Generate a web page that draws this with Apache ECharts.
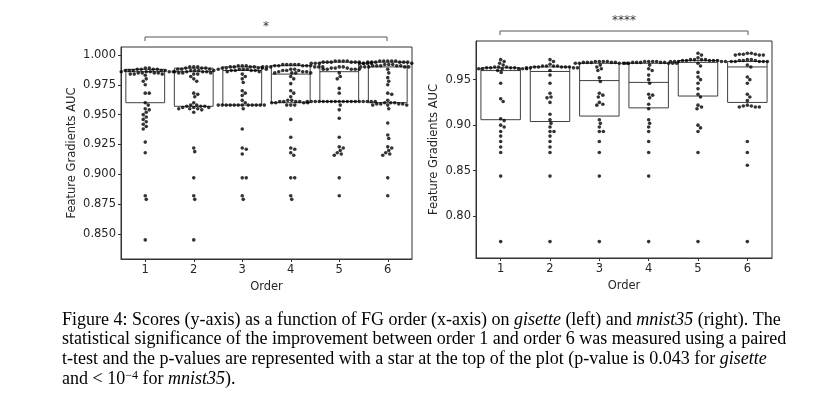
<!DOCTYPE html>
<html>
<head>
<meta charset="utf-8">
<script src="https://cdn.jsdelivr.net/npm/echarts@6/dist/echarts.min.js"></script>
<style>html,body{margin:0;background:#fff}#c{width:838px;height:409px}</style>
</head>
<body>
<div id="c"></div>
<script>
// order 1..6
var orders = [1, 2, 3, 4, 5, 6];

// gisette: boxes [q1, median, q3]
var gisetteBox = [
  [0.960, 0.986, 0.988], [0.957, 0.986, 0.989], [0.958, 0.987, 0.990],
  [0.960, 0.984, 0.991], [0.961, 0.986, 0.994], [0.960, 0.990, 0.994]
];
var gisettePts = [
  [0.989,0.989,0.988,0.988,0.988,0.988,0.987,0.987,0.987,0.987,0.987,0.986,0.986,0.986,0.986,0.986,0.985,0.985,0.985,0.985,0.984,0.984,0.984,0.983,
   0.980,0.978,0.975,0.968,0.968,0.960,0.958,0.955,0.954,0.952,0.950,0.948,0.946,0.944,0.942,0.940,0.938,0.927,0.918,0.882,0.879,0.845],
  [0.990,0.990,0.990,0.989,0.989,0.989,0.988,0.988,0.988,0.987,0.987,0.987,0.987,0.986,0.986,0.986,0.986,0.985,0.985,0.985,0.984,0.984,
   0.982,0.980,0.978,0.968,0.967,0.965,0.960,0.958,0.958,0.957,0.957,0.957,0.956,0.956,0.956,0.955,0.955,0.955,0.954,0.952,
   0.922,0.919,0.897,0.882,0.879,0.845],
  [0.991,0.991,0.991,0.990,0.990,0.990,0.990,0.989,0.989,0.989,0.989,0.988,0.988,0.988,0.988,0.988,0.987,0.987,0.987,0.987,0.986,0.986,
   0.984,0.982,0.980,0.977,0.970,0.968,0.966,0.962,0.960,0.958,0.958,0.958,0.958,0.958,0.958,0.958,0.958,0.958,0.958,0.958,0.958,0.955,
   0.938,0.922,0.921,0.917,0.897,0.897,0.882,0.879],
  [0.992,0.992,0.992,0.992,0.992,0.991,0.991,0.991,0.991,0.991,0.990,0.990,0.990,0.990,0.990,0.990,
   0.988,0.988,0.987,0.987,0.987,0.986,0.986,0.986,0.985,0.985,0.985,0.985,0.982,0.980,0.976,0.970,0.968,0.965,
   0.962,0.962,0.961,0.961,0.961,0.961,0.960,0.960,0.960,0.960,0.958,0.958,0.958,
   0.946,0.931,0.922,0.921,0.918,0.916,0.897,0.897,0.882,0.879],
  [0.995,0.995,0.995,0.995,0.994,0.994,0.994,0.994,0.994,0.994,0.993,0.993,0.993,0.993,0.993,0.993,
   0.990,0.990,0.989,0.989,0.989,0.988,0.988,0.988,0.988,0.988,0.985,0.982,0.980,0.972,0.968,
   0.961,0.961,0.961,0.961,0.961,0.961,0.961,0.961,0.961,0.961,0.961,0.961,0.961,0.961,0.961,0.961,0.961,0.961,
   0.958,0.954,0.947,0.931,0.923,0.922,0.920,0.918,0.917,0.916,0.897,0.882],
  [0.995,0.995,0.995,0.995,0.995,0.994,0.994,0.994,0.994,0.994,0.994,0.993,0.993,0.993,0.993,0.993,
   0.992,0.992,0.992,0.991,0.991,0.991,0.991,0.991,0.990,0.990,0.990,0.990,0.990,0.990,
   0.988,0.985,0.981,0.978,0.975,0.968,0.967,0.962,0.960,0.960,0.960,0.959,0.959,0.959,0.959,0.958,0.958,0.958,0.955,
   0.943,0.933,0.930,0.923,0.922,0.920,0.918,0.917,0.916,0.897,0.882]
];

// mnist35
var mnistBox = [
  [0.906, 0.960, 0.963], [0.904, 0.959, 0.964], [0.910, 0.949, 0.968],
  [0.919, 0.947, 0.968], [0.932, 0.969, 0.971], [0.925, 0.964, 0.970]
];
var mnistPts = [
  [0.972,0.970,0.968,0.966,0.964,0.964,0.964,0.963,0.963,0.963,0.963,0.962,0.962,0.962,0.962,0.962,0.962,0.962,0.960,0.958,
   0.946,0.929,0.926,0.907,0.905,0.900,0.898,0.893,0.888,0.882,0.876,0.870,0.844,0.772],
  [0.972,0.970,0.967,0.965,0.965,0.965,0.965,0.964,0.964,0.964,0.964,0.964,0.963,0.963,0.963,0.963,0.960,0.955,
   0.946,0.935,0.931,0.930,0.925,0.912,0.906,0.902,0.898,0.893,0.893,0.888,0.882,0.876,0.870,0.844,0.772],
  [0.970,0.970,0.970,0.970,0.969,0.969,0.969,0.969,0.969,0.968,0.968,0.968,0.968,0.968,0.966,0.964,0.962,0.960,0.952,0.948,
   0.935,0.933,0.931,0.925,0.923,0.922,0.906,0.902,0.898,0.893,0.893,0.882,0.870,0.844,0.772],
  [0.970,0.970,0.970,0.970,0.969,0.969,0.969,0.969,0.969,0.968,0.968,0.968,0.968,0.968,0.966,0.962,0.960,0.955,0.950,0.946,
   0.934,0.933,0.930,0.923,0.918,0.906,0.902,0.898,0.893,0.882,0.870,0.844,0.772],
  [0.979,0.977,0.974,0.972,0.972,0.972,0.972,0.971,0.971,0.971,0.971,0.971,0.970,0.970,0.970,0.970,0.970,0.968,0.965,
   0.958,0.953,0.950,0.946,0.940,0.934,0.931,0.922,0.920,0.918,0.900,0.897,0.893,0.870,0.772],
  [0.979,0.979,0.978,0.978,0.978,0.977,0.977,0.977,0.972,0.972,0.971,0.971,0.971,0.970,0.970,0.970,0.970,0.970,0.966,0.964,
   0.953,0.950,0.946,0.934,0.931,0.927,0.922,0.921,0.921,0.920,0.920,0.920,0.882,0.870,0.856,0.772]
];

var leftGrid = {left: 121, top: 47, width: 291, height: 212, ymin: 0.829, ymax: 1.0067};
var rightGrid = {left: 476, top: 41, width: 296, height: 217, ymin: 0.754, ymax: 0.9925};

// beeswarm offsets, worked out in pixels and turned back to x data units
function swarm(vals, g, cat) {
  var pxX = g.width / 6, pxY = g.height / (g.ymax - g.ymin), d = 3.7;
  var placed = [], out = [];
  vals.slice().sort(function (a, b) { return b - a; }).forEach(function (v) {
    var y = v * pxY, best = 0;
    for (var k = 0; k < 200; k++) {
      var off = (k % 2 ? 1 : -1) * Math.ceil(k / 2) * 0.5;
      var ok = placed.every(function (p) {
        var dx = p[0] - off, dy = p[1] - y;
        return dx * dx + dy * dy >= d * d;
      });
      if (ok) { best = off; break; }
    }
    placed.push([best, y]);
    out.push([cat + best / pxX, v]);
  });
  return out;
}

function boxSeries(boxes, idx) {
  return {
    type: 'custom', xAxisIndex: idx, yAxisIndex: idx, z: 1,
    data: boxes.map(function (b, i) { return [orders[i], b[0], b[1], b[2]]; }),
    renderItem: function (params, api) {
      var x = api.value(0), hw = 0.4;
      var p1 = api.coord([x - hw, api.value(3)]), p2 = api.coord([x + hw, api.value(1)]);
      var m1 = api.coord([x - hw, api.value(2)]), m2 = api.coord([x + hw, api.value(2)]);
      return {type: 'group', children: [
        {type: 'rect', shape: {x: p1[0], y: p1[1], width: p2[0] - p1[0], height: p2[1] - p1[1]},
         style: {fill: '#fff', stroke: '#3f3f3f', lineWidth: 1}},
        {type: 'line', shape: {x1: m1[0], y1: m1[1], x2: m2[0], y2: m2[1]}, style: {stroke: '#3f3f3f', lineWidth: 1}}
      ]};
    }
  };
}

function ptSeries(pts, g, idx) {
  var data = [];
  pts.forEach(function (vals, i) { data = data.concat(swarm(vals, g, orders[i])); });
  return {type: 'scatter', xAxisIndex: idx, yAxisIndex: idx, z: 3, symbolSize: 3.6,
    itemStyle: {color: '#000'}, data: data, silent: true};
}

var txt = {color: '#262626', fontFamily: 'DejaVu Sans', fontSize: 11.5};
function xAx(i) {
  return {type: 'value', gridIndex: i, min: 0.5, max: 6.5,
    name: 'Order', nameLocation: 'middle', nameGap: 17, nameTextStyle: txt,
    axisLine: {lineStyle: {color: '#333'}},
    axisTick: {length: 3, customValues: orders, lineStyle: {color: '#333'}},
    axisLabel: Object.assign({margin: 5, customValues: orders}, txt),
    splitLine: {show: false}};
}
function yAx(i, g, iv, dec) {
  return {type: 'value', gridIndex: i, min: g.ymin, max: g.ymax,
    name: 'Feature Gradients AUC', nameLocation: 'middle', nameGap: dec === 3 ? 43 : 36, nameTextStyle: txt,
    axisLine: {show: true, lineStyle: {color: '#333'}},
    axisLabel: Object.assign({margin: 5, customValues: iv, formatter: function (v) { return v.toFixed(dec); }}, txt),
    axisTick: {show: true, length: 3, customValues: iv, lineStyle: {color: '#333'}},
    splitLine: {show: false}};
}

function bracket(x1, x2, y, star) {
  return [
    {type: 'polyline', shape: {points: [[x1, y + 4], [x1, y], [x2, y], [x2, y + 4]]}, style: {stroke: '#555', fill: null, lineWidth: 1}},
    {type: 'text', x: (x1 + x2) / 2, y: y - 4, style: {text: star, fill: '#333', font: '12px DejaVu Sans', align: 'center', verticalAlign: 'bottom'}}
  ];
}

var serif = 'Liberation Serif';
var rich = {it: {fontStyle: 'italic', fontFamily: serif, fontSize: 18, fill: '#000'},
            sup: {fontFamily: serif, fontSize: 12, padding: [0, 0, 8, 0], fill: '#000'}};
var caption = [
  'Figure 4: Scores (y-axis) as a function of FG order (x-axis) on {it|gisette} (left) and {it|mnist35} (right). The',
  'statistical significance of the improvement between order 1 and order 6 was measured using a paired',
  't-test and the p-values are represented with a star at the top of the plot (p-value is 0.043 for {it|gisette}',
  'and < 10{sup|\u22124} for {it|mnist35}).'
];

var chart = echarts.init(document.getElementById('c'));
chart.setOption({
  animation: false,
  grid: [
    {left: leftGrid.left, top: leftGrid.top, width: leftGrid.width, height: leftGrid.height, show: true, borderColor: '#333', borderWidth: 1},
    {left: rightGrid.left, top: rightGrid.top, width: rightGrid.width, height: rightGrid.height, show: true, borderColor: '#333', borderWidth: 1}
  ],
  xAxis: [xAx(0), xAx(1)],
  yAxis: [
    yAx(0, leftGrid, [0.850, 0.875, 0.900, 0.925, 0.950, 0.975, 1.000], 3),
    yAx(1, rightGrid, [0.80, 0.85, 0.90, 0.95], 2)
  ],
  series: [
    boxSeries(gisetteBox, 0), ptSeries(gisettePts, leftGrid, 0),
    boxSeries(mnistBox, 1), ptSeries(mnistPts, rightGrid, 1)
  ],
  graphic: bracket(145, 387, 37, '*').concat(bracket(500, 748, 31, '****')).concat(
    caption.map(function (line, i) {
      return {type: 'text', x: 62, y: 311 + i * 19.5,
        style: {text: line, rich: rich, font: '18px ' + serif, fill: '#000'}};
    }))
});
</script>
</body>
</html>
